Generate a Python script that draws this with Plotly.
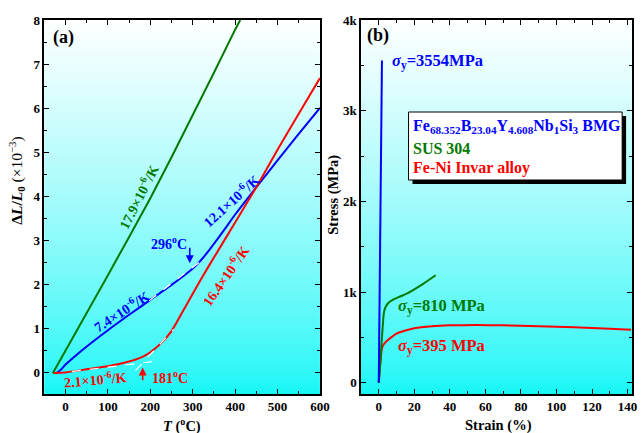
import plotly.graph_objects as go

# ---------------- Panel (a): thermal expansion ----------------
# temperature in deg C, dL/L0 in units of 1e-3
sus_T = [-30, 0, 50, 100, 150, 200, 250, 300, 350, 400, 412]
sus_dL = [-0.03, 0.48, 1.33, 2.2, 3.07, 3.95, 4.88, 5.83, 6.8, 7.78, 8.0]

bmg_T = [-20, -10, 0, 25, 50, 100, 150, 200, 250, 296, 310, 330, 350, 375, 400, 450, 500, 550, 600]
bmg_dL = [-0.02, 0.06, 0.17, 0.38, 0.58, 0.95, 1.3, 1.64, 1.98, 2.32, 2.44, 2.66, 2.91, 3.24, 3.58, 4.2, 4.81, 5.41, 6.0]

invar_T = [-28, 0, 50, 100, 150, 180, 200, 225, 250, 275, 300, 325, 350, 400, 450, 500, 550, 600]
invar_dL = [-0.02, -0.01, 0.06, 0.13, 0.24, 0.34, 0.45, 0.65, 0.93, 1.35, 1.78, 2.2, 2.6, 3.4, 4.2, 5.05, 5.87, 6.68]

# linear fits drawn as white dashed guides
bmg_fit_T = [197, 330]
bmg_fit_dL = [1.62, 2.6]
invar_fit1_T = [15, 225]
invar_fit1_dL = [0.01, 0.26]
invar_fit2_T = [165, 255]
invar_fit2_dL = [0.03, 0.97]

# ---------------- Panel (b): tensile curves ----------------
bmg_strain = [0, 1.8]
bmg_stress = [0, 3554]
sus_strain = [0, 1.0, 2.0, 2.8, 3.5, 5, 8, 12, 16, 20, 25, 32]
sus_stress = [0, 250, 560, 760, 820, 870, 915, 950, 985, 1030, 1090, 1185]
invar_strain = [0, 2, 4, 7, 10, 15, 20, 30, 40, 55, 70, 90, 110, 130, 142]
invar_stress = [0, 395, 450, 500, 540, 575, 600, 622, 632, 636, 632, 622, 610, 595, 583]

a_xticks = [0, 100, 200, 300, 400, 500, 600]
a_yticks = [0, 1, 2, 3, 4, 5, 6, 7, 8]
b_xticks = [0, 20, 40, 60, 80, 100, 120, 140]
b_yticks = [0, 1000, 2000, 3000, 4000]
b_ytext = ["0", "1k", "2k", "3k", "4k"]

BLUE = "#0000FF"
GREEN = "#007A00"
RED = "#FF0000"
FONT = "Liberation Serif"

W, H = 642, 433
ML, MR, MT, MB = 0, 0, 20, 39


def px(x):
    return x / (W - ML - MR)


def py(y):
    return (H - MB - y) / (H - MT - MB)


fig = go.Figure()

line_kw = dict(mode="lines", showlegend=False, hoverinfo="skip")
fig.add_trace(go.Scatter(x=sus_T, y=sus_dL, line=dict(color=GREEN, width=2), xaxis="x", yaxis="y", **line_kw))
fig.add_trace(go.Scatter(x=bmg_T, y=bmg_dL, line=dict(color=BLUE, width=2, shape="spline", smoothing=0.6),
                         xaxis="x", yaxis="y", **line_kw))
fig.add_trace(go.Scatter(x=invar_T, y=invar_dL, line=dict(color=RED, width=2, shape="spline", smoothing=0.6),
                         xaxis="x", yaxis="y", **line_kw))
for fx, fy in [(bmg_fit_T, bmg_fit_dL), (invar_fit1_T, invar_fit1_dL), (invar_fit2_T, invar_fit2_dL)]:
    fig.add_trace(go.Scatter(x=fx, y=fy, line=dict(color="white", width=1.2, dash="dash"),
                             xaxis="x", yaxis="y", **line_kw))

fig.add_trace(go.Scatter(x=invar_strain, y=invar_stress, line=dict(color=RED, width=2, shape="spline", smoothing=0.5),
                         xaxis="x2", yaxis="y2", **line_kw))
fig.add_trace(go.Scatter(x=sus_strain, y=sus_stress, line=dict(color=GREEN, width=2, shape="spline", smoothing=0.5),
                         xaxis="x2", yaxis="y2", **line_kw))
fig.add_trace(go.Scatter(x=bmg_strain, y=bmg_stress, line=dict(color=BLUE, width=2), xaxis="x2", yaxis="y2", **line_kw))

# white-to-cyan vertical gradient behind each plot area
shapes = []
nb = 90
top = (255, 255, 255)
bot = (20, 246, 246)
for xr, yr in [("x domain", "y domain"), ("x2 domain", "y2 domain")]:
    for i in range(nb):
        t = ((i + 0.5) / nb) ** 0.75  # 0 bottom -> 1 top
        c = tuple(int(round(bot[k] + (top[k] - bot[k]) * t)) for k in range(3))
        shapes.append(dict(type="rect", xref=xr, yref=yr, x0=0, x1=1,
                           y0=i / nb, y1=(i + 1) / nb + 0.002,
                           fillcolor="rgb(%d,%d,%d)" % c, line=dict(width=0), layer="below"))

# legend-style text box with drop shadow
bx0, bx1, by0, by1 = 415, 632, 112, 180
shapes.append(dict(type="rect", xref="paper", yref="paper", x0=px(bx0 + 4), x1=px(bx1 + 4),
                   y0=py(by1 + 4), y1=py(by0 + 4), fillcolor="black", line=dict(width=0)))
shapes.append(dict(type="rect", xref="paper", yref="paper", x0=px(bx0), x1=px(bx1),
                   y0=py(by1), y1=py(by0), fillcolor="white", line=dict(color="black", width=1)))

tick_font = dict(family=FONT, size=13, color="black")
axis_common = dict(showline=True, linecolor="black", linewidth=1.5, mirror="ticks",
                   ticks="inside", ticklen=5, tickwidth=1.2, tickcolor="black",
                   showgrid=False, zeroline=False, tickfont=tick_font)

fig.update_layout(
    width=W, height=H,
    margin=dict(l=ML, r=MR, t=MT, b=MB),
    paper_bgcolor="white", plot_bgcolor="white",
    font=dict(family=FONT, color="black"),
    shapes=shapes,
    xaxis=dict(domain=[px(45), px(325)], range=[-50, 600], tickvals=a_xticks,
               ticktext=["<b>%d</b>" % v for v in a_xticks],
               minor=dict(ticks="inside", ticklen=3, dtick=50, tick0=0, tickcolor="black"),
               anchor="y", **axis_common),
    yaxis=dict(domain=[0, 1], range=[-0.5, 8], tickvals=a_yticks,
               ticktext=["<b>%d</b>" % v for v in a_yticks],
               minor=dict(ticks="inside", ticklen=3, dtick=0.5, tick0=0, tickcolor="black"),
               anchor="x", **axis_common),
    xaxis2=dict(domain=[px(366.7), 1.0], range=[-10, 142.5], tickvals=b_xticks,
                ticktext=["<b>%d</b>" % v for v in b_xticks],
                minor=dict(ticks="inside", ticklen=3, dtick=10, tick0=0, tickcolor="black"),
                anchor="y2", **axis_common),
    yaxis2=dict(domain=[0, 1], range=[-125, 4000], tickvals=b_yticks,
                ticktext=["<b>%s</b>" % s for s in b_ytext],
                minor=dict(ticks="inside", ticklen=3, dtick=500, tick0=0, tickcolor="black"),
                anchor="x2", **axis_common),
)

ann = []


def note(text, x, y, color, size=14, angle=0, xref="x", yref="y", xanchor="center", yanchor="middle"):
    ann.append(dict(text=text, x=x, y=y, xref=xref, yref=yref, showarrow=False,
                    textangle=angle, xanchor=xanchor, yanchor=yanchor,
                    font=dict(family=FONT, size=size, color=color)))


# panel labels
note("<b>(a)</b>", px(64), py(38), "black", size=18, xref="paper", yref="paper")
note("<b>(b)</b>", px(383.5), py(36), "black", size=18, xref="paper", yref="paper")

# axis titles
note("<b>Δ<i>L</i>/<i>L</i><sub>0</sub></b> (×10<sup>−3</sup>)", px(17), py(181), "black", size=15.5,
     angle=-90, xref="paper", yref="paper")
note("<b><i>T</i> (<sup>o</sup>C)</b>", px(185), py(425), "black", size=14.5, xref="paper", yref="paper")
note("<b>Stress (MPa)</b>", px(338), py(195), "black", size=14.5, angle=-90, xref="paper", yref="paper")
note("<b>Strain (%)</b>", px(506), py(426), "black", size=14.5, xref="paper", yref="paper")

# CTE labels, panel (a)
note("<b>17.9×10<sup>-6</sup>/K</b>", 172, 4.0, GREEN, angle=-63)
note("<b>12.1×10<sup>-6</sup>/K</b>", 391, 3.91, BLUE, angle=-42)
note("<b>7.4×10<sup>-6</sup>/K</b>", 131, 1.39, BLUE, angle=-33)
note("<b>16.4×10<sup>-6</sup>/K</b>", 377, 2.21, RED, angle=-55)
note("<b>2.1×10<sup>-6</sup>/K</b>", 70, -0.17, RED, angle=-5)
note("<b>181<sup>o</sup>C</b>", 246, -0.11, RED)
note("<b>296<sup>o</sup>C</b>", 245, 2.94, BLUE)

# transition arrows
ann.append(dict(x=182, y=0.1, ax=182, ay=-0.22, xref="x", yref="y", axref="x", ayref="y",
                text="", showarrow=True, arrowhead=2, arrowsize=1, arrowwidth=1.6, arrowcolor=RED))
ann.append(dict(x=293, y=2.47, ax=293, ay=2.86, xref="x", yref="y", axref="x", ayref="y",
                text="", showarrow=True, arrowhead=2, arrowsize=1, arrowwidth=1.6, arrowcolor=BLUE))

# yield strength labels, panel (b)
note("<b><i>σ</i><sub>y</sub>=3554MPa</b>", 6.5, 3545, BLUE, size=16.5, xref="x2", yref="y2", xanchor="left")
note("<b><i>σ</i><sub>y</sub>=810 MPa</b>", 9.8, 845, GREEN, size=16.5, xref="x2", yref="y2", xanchor="left")
note("<b><i>σ</i><sub>y</sub>=395 MPa</b>", 9.8, 395, RED, size=16.5, xref="x2", yref="y2", xanchor="left")

# alloy key inside the shadowed box
note("<b>Fe<sub>68.352</sub>B<sub>23.04</sub>Y<sub>4.608</sub>Nb<sub>1</sub>Si<sub>3</sub> BMG</b>",
     px(418), py(126), BLUE, size=16, xref="paper", yref="paper", xanchor="left")
note("<b>SUS 304</b>", px(418), py(148), GREEN, size=16, xref="paper", yref="paper", xanchor="left")
note("<b>Fe-Ni Invar alloy</b>", px(418), py(168), RED, size=16, xref="paper", yref="paper", xanchor="left")

fig.update_layout(annotations=ann)

fig.write_html("out.html")
